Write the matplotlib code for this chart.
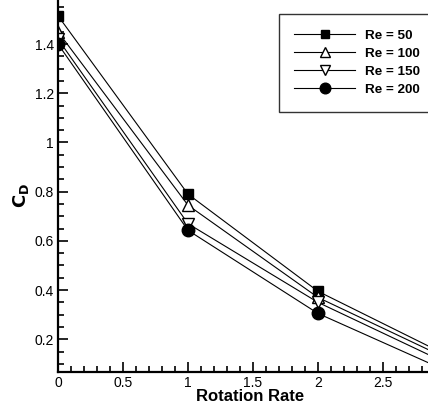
import matplotlib
matplotlib.use("Agg")
import matplotlib.pyplot as plt
from matplotlib.ticker import MultipleLocator, FuncFormatter

plt.rcParams['font.family'] = ['Liberation Sans', 'DejaVu Sans']

rotation = [0, 1, 2, 3]
cd_re50 = [1.515, 0.79, 0.395, 0.133]
cd_re100 = [1.45, 0.745, 0.37, 0.12]
cd_re150 = [1.42, 0.67, 0.35, 0.10]
cd_re200 = [1.40, 0.643, 0.305, 0.069]
labels = ['Re = 50', 'Re = 100', 'Re = 150', 'Re = 200']

W, H = 428, 404
fig = plt.figure(figsize=(W/100, H/100), dpi=100)
x0, y0 = 58, 372
px_x = 130.0
px_y = 246.0
xlim = (0, 2.85)
ylim = (0.067, 1.58)
ax_w = (xlim[1]-xlim[0])*px_x
ax_h = (ylim[1]-ylim[0])*px_y
ax = fig.add_axes([x0/W, (H-y0)/H, ax_w/W, ax_h/H])

styles = [
    dict(marker='s', mfc='black', mec='black', ms=7),
    dict(marker='^', mfc='white', mec='black', ms=8),
    dict(marker='v', mfc='white', mec='black', ms=8),
    dict(marker='o', mfc='black', mec='black', ms=9),
]
for ys, lab, st in zip([cd_re50, cd_re100, cd_re150, cd_re200], labels, styles):
    ax.plot(rotation, ys, color='black', lw=0.8, label=lab, **st)

ax.set_xlim(*xlim)
ax.set_ylim(*ylim)
ax.xaxis.set_major_locator(MultipleLocator(0.5))
ax.xaxis.set_minor_locator(MultipleLocator(0.1))
ax.yaxis.set_major_locator(MultipleLocator(0.2))
ax.yaxis.set_minor_locator(MultipleLocator(0.05))
fmt = FuncFormatter(lambda v, p: '%g' % round(v, 6))
ax.xaxis.set_major_formatter(fmt)
ax.yaxis.set_major_formatter(fmt)
ax.tick_params(which='both', direction='in', top=False, right=False, labelsize=10, width=1.2)
ax.tick_params(which='major', length=7, pad=3)
ax.tick_params(which='minor', length=4)
for s in ['top', 'right']:
    ax.spines[s].set_visible(False)
for s in ['left', 'bottom']:
    ax.spines[s].set_linewidth(1.6)

ax.set_xlabel('Rotation Rate', fontsize=12, fontweight='bold')
ax.xaxis.set_label_coords(1.48 * px_x / ax_w, -(389 - y0) / ax_h)
ax.set_ylabel(r'$\mathbf{C_D}$', fontsize=13)
ax.yaxis.set_label_coords(-(x0 - 31) / ax_w, (y0 - 195) / ax_h)

leg = ax.legend(loc='upper left', bbox_to_anchor=(279/W, 1 - 14/H), bbox_transform=fig.transFigure,
                frameon=True, fancybox=False, edgecolor='black', handlelength=4.5,
                prop=dict(weight='bold', size=9.7), labelspacing=0.42, borderpad=1.15,
                handletextpad=0.7, borderaxespad=0, markerscale=0.85)
leg.get_frame().set_linewidth(1.0)

fig.savefig('out.png', dpi=100)
